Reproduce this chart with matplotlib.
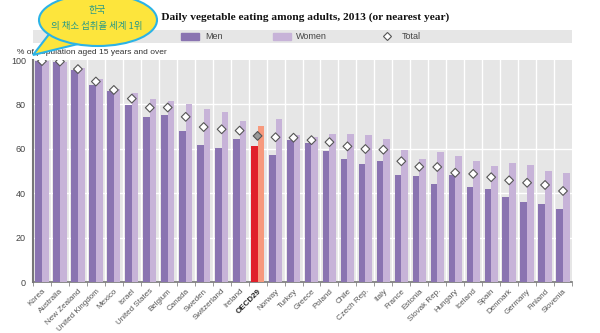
import numpy as np
import matplotlib.pyplot as plt
from matplotlib.patches import Ellipse, Polygon, Rectangle
from matplotlib.lines import Line2D

plt.rcParams['font.family'] = ['Liberation Sans', 'DejaVu Sans']

countries = ['Korea', 'Australia', 'New Zealand', 'United Kingdom', 'Mexico', 'Israel',
             'United States', 'Belgium', 'Canada', 'Sweden', 'Switzerland', 'Ireland',
             'OECD29', 'Norway', 'Turkey', 'Greece', 'Poland', 'Chile', 'Czech Rep.',
             'Italy', 'France', 'Estonia', 'Slovak Rep.', 'Hungary', 'Iceland', 'Spain',
             'Denmark', 'Germany', 'Finland', 'Slovenia']
men = [99.6, 99.2, 95.5, 88.9, 86.0, 79.7, 74.5, 75.1, 68.0, 61.7, 60.3, 64.3,
       61.1, 57.2, 63.8, 62.6, 59.0, 55.2, 53.2, 54.4, 48.1, 47.8, 44.3, 48.4,
       42.7, 41.9, 38.2, 36.0, 35.0, 33.0]
women = [99.5, 99.3, 96.5, 91.5, 86.8, 85.0, 82.3, 81.6, 80.2, 78.1, 76.8, 72.3,
         70.3, 73.3, 66.1, 65.5, 66.5, 66.5, 66.1, 64.3, 59.6, 55.2, 58.5, 56.7,
         54.3, 52.2, 53.5, 52.6, 50.2, 49.2]
total = [99.5, 99.3, 95.9, 90.3, 86.5, 82.6, 78.5, 78.6, 74.4, 69.8, 68.8, 68.2,
         65.8, 65.2, 65.0, 63.9, 63.0, 61.1, 59.9, 59.6, 54.4, 51.9, 51.8, 49.2,
         48.7, 47.2, 45.8, 44.7, 43.7, 41.0]

c_men, c_women = '#8a74b1', '#c7b3d8'
c_oecd_m, c_oecd_w = '#e0202b', '#f7997d'
oecd = countries.index('OECD29')

fig = plt.figure(figsize=(6, 3.33), dpi=100)
ax = fig.add_axes([33 / 600, 1 - 282 / 333, 539 / 600, 222 / 333])
ax.set_facecolor('#e6e6e6')

x = np.arange(len(countries))
w = 0.37
men_col = [c_oecd_m if i == oecd else c_men for i in x]
women_col = [c_oecd_w if i == oecd else c_women for i in x]
ax.bar(x - w / 2, men, w, color=men_col, zorder=3, label='Men')
ax.bar(x + w / 2, women, w, color=women_col, zorder=3, label='Women')

# diamonds for the total, OECD average filled grey
face = ['#999999' if i == oecd else 'white' for i in x]
ax.scatter(x, total, marker='D', s=20, c=face, edgecolors='#555555',
           linewidths=0.8, zorder=4)

ax.set_xlim(-0.5, len(countries) - 0.5)
ax.set_ylim(0, 100)
ax.set_yticks([0, 20, 40, 60, 80, 100])

# white grid: horizontal at ticks, vertical between countries
for yv in [20, 40, 60, 80]:
    ax.axhline(yv, color='white', lw=1, zorder=1)
for xv in x[:-1] + 0.5:
    ax.axvline(xv, color='white', lw=1, zorder=1)

ax.set_xticks(x)
ax.set_xticklabels(countries, rotation=45, ha='right', rotation_mode='anchor',
                   fontsize=5.8, color='#555555')
ax.tick_params(axis='x', length=0, pad=4)
ax.set_xticks(np.arange(len(countries) + 1) - 0.5, minor=True)
ax.tick_params(axis='x', which='minor', length=3, color='#888888')
ax.tick_params(axis='y', length=0, labelsize=6.5, colors='#444444', pad=5)
lab = ax.get_xticklabels()[oecd]
lab.set_fontweight('bold')
lab.set_color('#222222')

for s in ['top', 'right']:
    ax.spines[s].set_visible(False)
ax.spines['left'].set_color('#777777')
ax.spines['left'].set_linewidth(1.5)
ax.spines['bottom'].set_color('#777777')
ax.spines['bottom'].set_linewidth(1.2)

# legend band
ax.add_patch(Rectangle((0, 1.075), 1, 0.06, transform=ax.transAxes,
                       facecolor='#e6e6e6', edgecolor='none', clip_on=False))
handles = [Rectangle((0, 0), 1, 1, color=c_men), Rectangle((0, 0), 1, 1, color=c_women),
           Line2D([], [], marker='D', ls='none', markersize=4.5,
                  markerfacecolor='white', markeredgecolor='#555555', markeredgewidth=0.8)]
ax.legend(handles, ['Men', 'Women', 'Total'], loc='center', ncol=3,
          bbox_to_anchor=(0.497, 1.105), frameon=False, fontsize=6.5,
          handlelength=2.0, handleheight=0.8, columnspacing=5.6, handletextpad=0.6,
          labelcolor='#444444')

fig.text(17 / 600, 1 - 52 / 333, '% of population aged 15 years and over',
         fontsize=6, color='#333333', ha='left', va='center')

fig.text(298 / 600, 1 - 17 / 333,
         '6.  Daily vegetable eating among adults, 2013 (or nearest year)',
         family='Liberation Serif', fontweight='bold', fontsize=8.2,
         ha='center', va='center', color='#111111')

# speech bubble
tail = Polygon([(50 / 600, 1 - 33 / 333), (78 / 600, 1 - 44 / 333), (33 / 600, 1 - 55 / 333)],
               closed=True, transform=fig.transFigure, facecolor='#fde53c',
               edgecolor='#2bb3e6', lw=1.5, zorder=10)
bubble = Ellipse((98 / 600, 1 - 20 / 333), 118 / 600, 52 / 333,
                 transform=fig.transFigure, facecolor='#fde53c',
                 edgecolor='#2bb3e6', lw=1.5, zorder=11)
fig.patches.extend([tail, bubble])
# fill the join between tail and ellipse
seam = Polygon([(52 / 600, 1 - 34 / 333), (76 / 600, 1 - 43.5 / 333), (58 / 600, 1 - 37 / 333)],
               closed=True, transform=fig.transFigure, facecolor='#fde53c',
               edgecolor='none', zorder=12)
fig.patches.append(seam)
fig.text(97 / 600, 1 - 10 / 333, '한국', family=['Noto Sans CJK KR'],
         fontsize=6.8, color='#2a9a86', ha='center', va='center', zorder=13)
fig.text(97 / 600, 1 - 27 / 333, '의 채소 섭취율 세계 1위', family=['Noto Sans CJK KR'],
         fontsize=6.8, color='#2a9a86', ha='center', va='center', zorder=13)

fig.savefig('out.png', dpi=100)
